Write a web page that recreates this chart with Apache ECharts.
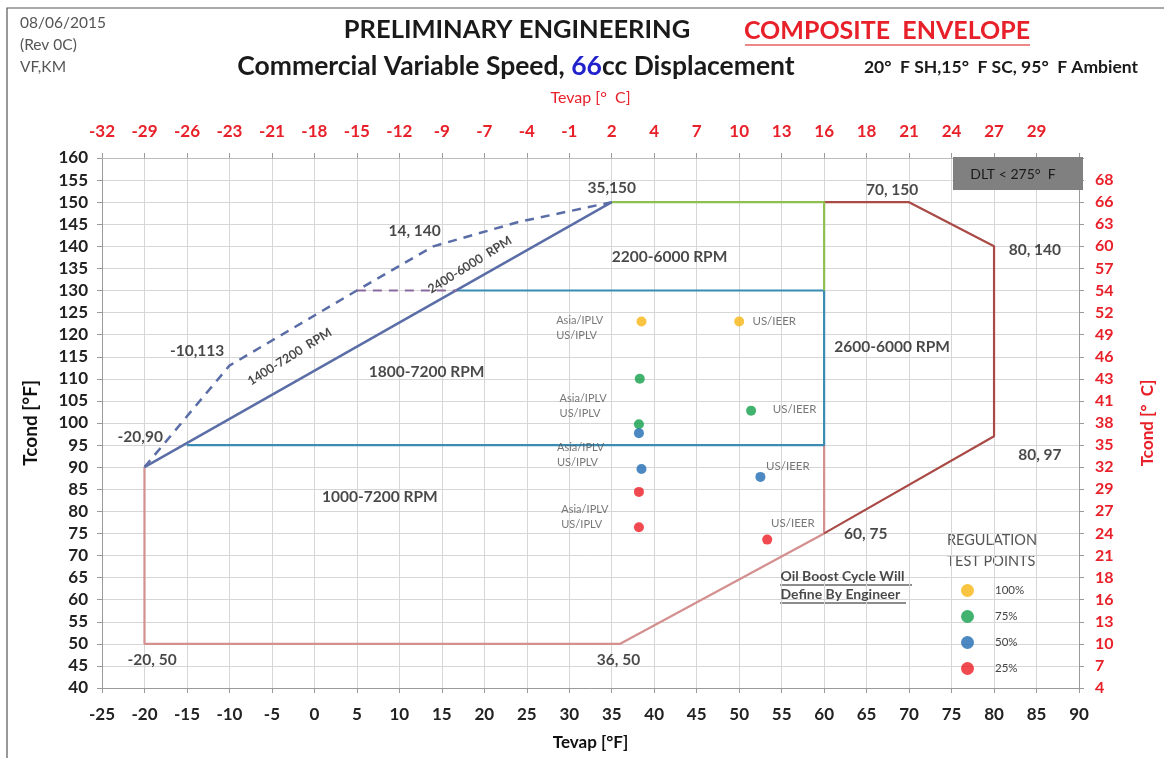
<!DOCTYPE html>
<html><head><meta charset="utf-8">
<script src="https://cdn.jsdelivr.net/npm/echarts@6/dist/echarts.min.js"></script>
<style>html,body{margin:0;padding:0;background:#fff}#c{width:1164px;height:758px}</style>
</head><body><div id="c"></div>
<script>
// ---- tick labels ----
const topLabelsC = ['-32','-29','-26','-23','-21','-18','-15','-12','-9','-7','-4','-1','2','4','7','10','13','16','18','21','24','27','29',''];
const rightLabelsC = ['4','7','10','13','16','18','21','24','27','29','32','35','38','41','43','46','49','52','54','57','60','63','66','68',''];

// ---- envelope lines (Tevap °F, Tcond °F) ----
const env1000 = [[-20,90],[-20,50],[36,50],[60,75],[60,95]];
const env1800 = [[-15,95],[60,95],[60,130],[16.7,130]];
const diag = [[-20,90],[35,150]];
const env2200 = [[35,150],[60,150],[60,130]];
const env2600 = [[60,150],[70,150],[80,140],[80,97],[60,75]];
const dash1400 = [[-20,90],[-10,113],[5,130],[14,140],[24,145.5],[35,150]];
const dash130 = [[5,130],[16.7,130]];

// ---- regulation test points ----
const pts100 = [[38.5,123],[50,123]];
const pts75 = [[38.3,110],[38.2,99.7],[51.4,102.8]];
const pts50 = [[38.2,97.7],[38.5,89.6],[52.5,87.8]];
const pts25 = [[38.2,84.4],[38.2,76.4],[53.3,73.6]];

// ---- annotations (anchored in data units) ----
const cornerLabels = [[35,153.3,'35,150'],[68,152.8,'70, 150'],[84.8,139.2,'80, 140'],[85.4,92.8,'80, 97'],[64.9,74.9,'60, 75'],[35.8,46.3,'36, 50'],[-19.1,46.3,'-20, 50'],[-20.5,96.9,'-20,90'],[-13.8,116.3,'-10,113'],[11.8,143.5,'14, 140']];
const rpmLabels = [[41.8,137.6,'2200-6000 RPM'],[68,117.2,'2600-6000 RPM'],[13.2,111.6,'1800-7200 RPM'],[7.7,83.3,'1000-7200 RPM']];
const slantLabels = [[18.3,135.8,'2400-6000  RPM'],[-2.9,115,'1400-7200  RPM']];
const iplvLabels = [[28.4,121.5],[28.8,103.8],[28.5,92.7],[29.0,78.7]];
const ieerLabels = [[51.5,123],[53.9,103],[53.1,90.3],[53.7,77.4]];
const oilLabels = [[54.8,65.2,'Oil Boost Cycle Will'],[54.8,61.1,'Define By Engineer']];
const legendNames = ['100%','75%','50%','25%'];

const FONT = 'Lato, "Open Sans", sans-serif';
const RED = '#e8202a';

function lineSeries(data, color, width, type) {
  return {type:'line', data, showSymbol:false, symbol:'none', silent:true, animation:false,
    lineStyle:{color, width, type: type||'solid'}, z:3};
}
function ptSeries(name, data, color) {
  return {type:'scatter', name, data, symbol:'circle', symbolSize:10, silent:true, animation:false,
    itemStyle:{color}, z:5};
}
function textSeries(data, label) {
  return {type:'scatter', data: data.map(d => ({value:[d[0],d[1]], txt:d[2]})), symbolSize:1,
    itemStyle:{color:'rgba(0,0,0,0)'}, silent:true, animation:false, z:6,
    label: Object.assign({show:true, position:'inside', fontFamily:FONT, formatter: p => p.data.txt}, label)};
}

const chart = echarts.init(document.getElementById('c'), null, {renderer:'canvas'});
chart.setOption({
  backgroundColor:'#fff',
  animation:false,
  textStyle:{fontFamily:FONT},
  grid:{left:102, right:84, top:158, bottom:70},
  legend:{data:legendNames, orient:'vertical', left:956, top:579, itemGap:13, itemWidth:13, itemHeight:13,
    icon:'circle', textStyle:{fontSize:11.5, color:'#444', fontFamily:FONT, padding:[0,0,0,16]}, selectedMode:false},
  xAxis:[
    {type:'value', min:-25, max:90, interval:5, position:'bottom',
     name:'Tevap [°F]', nameLocation:'middle', nameGap:46, nameTextStyle:{fontSize:17, fontWeight:'bold', color:'#111', fontFamily:FONT},
     axisLine:{show:true, onZero:false, lineStyle:{color:'#9a9a9a'}}, axisTick:{show:true, length:5, lineStyle:{color:'#9a9a9a'}},
     axisLabel:{fontSize:17, fontWeight:'bold', color:'#222', margin:18},
     splitLine:{show:true, lineStyle:{color:'#d6d6d6'}}},
    {type:'value', min:-25, max:90, interval:5, position:'top',
     name:'Tevap [°  C]', nameLocation:'middle', nameGap:52, nameTextStyle:{fontSize:16, color:RED, fontFamily:FONT},
     axisLine:{show:true, onZero:false, lineStyle:{color:'#bbb'}}, axisTick:{show:true, length:5, lineStyle:{color:'#9a9a9a'}},
     axisLabel:{fontSize:17, fontWeight:'bold', color:RED, margin:18, formatter:v => topLabelsC[Math.round((v+25)/5)]},
     splitLine:{show:false}}
  ],
  yAxis:[
    {type:'value', min:40, max:160, interval:5, position:'left',
     name:'Tcond [°F]', nameLocation:'middle', nameGap:62, nameRotate:90, nameTextStyle:{fontSize:19, fontWeight:'bold', color:'#111', fontFamily:FONT},
     axisLine:{show:true, onZero:false, lineStyle:{color:'#9a9a9a'}}, axisTick:{show:true, length:5, lineStyle:{color:'#9a9a9a'}},
     axisLabel:{fontSize:17, fontWeight:'bold', color:'#222', margin:14},
     splitLine:{show:true, lineStyle:{color:'#d6d6d6'}}},
    {type:'value', min:40, max:160, interval:5, position:'right',
     name:'Tcond [°  C]', nameLocation:'middle', nameGap:60, nameRotate:90, nameTextStyle:{fontSize:17, fontWeight:'bold', color:RED, fontFamily:FONT},
     axisLine:{show:true, onZero:false, lineStyle:{color:'#9a9a9a'}}, axisTick:{show:true, length:5, lineStyle:{color:'#9a9a9a'}},
     axisLabel:{fontSize:16, fontWeight:'bold', color:RED, margin:16, formatter:v => rightLabelsC[Math.round((v-40)/5)]},
     splitLine:{show:false}}
  ],
  series:[
    lineSeries(env1000, '#d48f8f', 2.2),
    lineSeries(env2600, '#a94a46', 2.2),
    lineSeries(env1800, '#3a8cb3', 2.2),
    lineSeries(env2200, '#8fbf4f', 2.2),
    lineSeries(diag, '#5a6da6', 2.4),
    lineSeries(dash1400, '#5a6da6', 2.5, [9,7]),
    lineSeries(dash130, '#8a6a9c', 2, [9,7]),
    ptSeries('100%', pts100, '#f7b512'),
    ptSeries('75%', pts75, '#13a04b'),
    ptSeries('50%', pts50, '#1f6bb3'),
    ptSeries('25%', pts25, '#ee1c24'),
    textSeries(cornerLabels, {fontSize:15.5, fontWeight:'bold', color:'#1a1a1a'}),
    textSeries(rpmLabels, {fontSize:15.5, fontWeight:'bold', color:'#1a1a1a'}),
    textSeries(slantLabels, {fontSize:12.5, fontWeight:'bold', color:'#1a1a1a', rotate:32}),
    textSeries(iplvLabels.map(d => [d[0], d[1], 'Asia/IPLV\nUS/IPLV']), {position:'right', distance:0, fontSize:11, color:'#555', lineHeight:15, align:'left'}),
    textSeries(ieerLabels.map(d => [d[0], d[1], 'US/IEER']), {position:'right', distance:0, fontSize:11.5, color:'#555'}),
    textSeries(oilLabels, {position:'right', distance:0, fontSize:14, fontWeight:'bold', color:'#1a1a1a'})
  ],
  graphic:[
    {type:'rect', shape:{x:7, y:8, width:1170, height:770}, style:{fill:'none', stroke:'#555', lineWidth:1.2}, silent:true},
    {type:'text', x:20, y:23, style:{text:'08/06/2015', fill:'#555', fontSize:15.5, fontFamily:FONT, verticalAlign:'middle'}},
    {type:'text', x:20, y:45, style:{text:'(Rev 0C)', fill:'#555', fontSize:15.5, fontFamily:FONT, verticalAlign:'middle'}},
    {type:'text', x:20, y:67, style:{text:'VF,KM', fill:'#555', fontSize:15.5, fontFamily:FONT, verticalAlign:'middle'}},
    {type:'text', x:517, y:30, style:{text:'PRELIMINARY ENGINEERING', fill:'#1a1a1a', fontSize:25.5, fontWeight:'bold', fontFamily:FONT, align:'center', verticalAlign:'middle'}},
    {type:'text', x:887, y:31, style:{text:'COMPOSITE  ENVELOPE', fill:RED, fontSize:25, fontWeight:'bold', fontFamily:FONT, align:'center', verticalAlign:'middle'}},
    {type:'line', shape:{x1:745, y1:45, x2:1030, y2:45}, style:{stroke:'#e86060', lineWidth:1.5}},
    {type:'text', x:516, y:66, style:{text:'{a|Commercial Variable Speed, }{b|66}{a|cc Displacement}', align:'center', verticalAlign:'middle',
      rich:{a:{fill:'#1a1a1a', fontSize:26.5, fontWeight:'bold', fontFamily:FONT}, b:{fill:'#2222cc', fontSize:26.5, fontWeight:'bold', fontFamily:FONT}}}},
    {type:'text', x:1001, y:67, style:{text:'20°  F SH,15°  F SC, 95°  F Ambient', fill:'#1a1a1a', fontSize:17.5, fontWeight:'bold', fontFamily:FONT, align:'center', verticalAlign:'middle'}},
    {type:'rect', shape:{x:953, y:157, width:130, height:33}, style:{fill:'#808080'}, z:10},
    {type:'text', x:1013, y:174, z:11, style:{text:'DLT < 275°  F', fill:'#1a1a1a', fontSize:14, fontFamily:FONT, align:'center', verticalAlign:'middle'}},
    {type:'text', x:992, y:540, style:{text:'REGULATION', fill:'#555', fontSize:14.5, fontFamily:FONT, align:'center', verticalAlign:'middle'}},
    {type:'text', x:991, y:561, style:{text:'TEST POINTS', fill:'#555', fontSize:14.5, fontFamily:FONT, align:'center', verticalAlign:'middle'}},
    {type:'line', shape:{x1:780, y1:585, x2:912, y2:585}, style:{stroke:'#1a1a1a', lineWidth:1}},
    {type:'line', shape:{x1:780, y1:603, x2:906, y2:603}, style:{stroke:'#1a1a1a', lineWidth:1}}
  ]
});
</script></body></html>
